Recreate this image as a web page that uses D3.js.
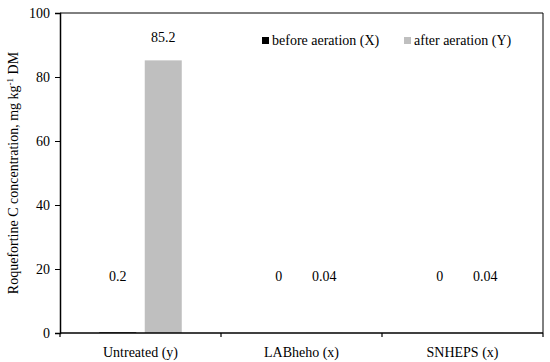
<!DOCTYPE html>
<html>
<head>
<meta charset="utf-8">
<script src="https://cdn.jsdelivr.net/npm/d3@7"></script>
<style>
  body { margin: 0; background: #fff; }
  text { font-family: "Liberation Serif", "DejaVu Serif", serif; fill: #000; }
</style>
</head>
<body>
<svg id="chart" width="550" height="362"></svg>
<script>
// values
var categories = ["Untreated (y)", "LABheho (x)", "SNHEPS (x)"];
var beforeVals = [0.2, 0, 0];
var afterVals = [85.2, 0.04, 0.04];
var seriesNames = ["before aeration (X)", "after aeration (Y)"];
var yTicks = [0, 20, 40, 60, 80, 100];

var colors = ["#000000", "#bfbfbf"];

var svg = d3.select("#chart");
var margin = {left: 60, right: 7, top: 13, bottom: 29};
var W = 550, H = 362;
var fs = "14px";

var x = d3.scaleBand()
  .domain(categories)
  .range([margin.left, W - margin.right]);

var y = d3.scaleLinear()
  .domain([0, 100])
  .range([H - margin.bottom, margin.top]);

var bw = 37, gap = 8.5;

// bars, one group per category
var rows = categories.map(function(c, i) {
  return {cat: c, vals: [beforeVals[i], afterVals[i]]};
});

var groups = svg.append("g").selectAll("g")
  .data(rows)
  .enter().append("g");

groups.each(function(D) {
  var cx = x(D.cat) + x.bandwidth() / 2;
  var g = d3.select(this);
  D.vals.forEach(function(v, s) {
    var bx = s == 0 ? cx - gap / 2 - bw : cx + gap / 2;
    g.append("rect")
      .attr("x", bx)
      .attr("width", bw)
      .attr("y", y(v))
      .attr("height", y(0) - y(v))
      .style("fill", colors[s]);
    // data labels: low ones sit at a fixed height, the tall one above its bar
    var ly = v > 30 ? y(v) - 18 : y(16.3);
    g.append("text")
      .attr("x", bx + bw / 2)
      .attr("y", ly)
      .attr("text-anchor", "middle")
      .style("font-size", fs)
      .text(String(v));
  });
});

// frame top and right
svg.append("line")
  .attr("x1", margin.left).attr("x2", W - margin.right)
  .attr("y1", y(100)).attr("y2", y(100))
  .style("stroke", "#000").style("stroke-width", 1);
svg.append("line")
  .attr("x1", W - margin.right).attr("x2", W - margin.right)
  .attr("y1", y(100)).attr("y2", y(0))
  .style("stroke", "#000").style("stroke-width", 1);

// y axis
var yAxis = svg.append("g")
  .attr("transform", "translate(" + margin.left + ",0)")
  .call(d3.axisLeft(y).tickValues(yTicks).tickSize(5).tickPadding(5));
yAxis.selectAll("text").style("font-size", fs).style("font-family", "Liberation Serif, serif").attr("fill", "#000");
yAxis.select(".domain").style("stroke-width", 1.5);

// x axis, ticks on band edges
var xAxis = svg.append("g")
  .attr("transform", "translate(0," + y(0) + ")");
xAxis.append("line")
  .attr("x1", margin.left).attr("x2", W - margin.right)
  .style("stroke", "#000").style("stroke-width", 1.5);
var edges = categories.map(function(c) { return x(c); }).concat([W - margin.right]);
xAxis.selectAll(".xt").data(edges).enter().append("line")
  .attr("x1", function(d) { return d; }).attr("x2", function(d) { return d; })
  .attr("y1", 0).attr("y2", 4)
  .style("stroke", "#000").style("stroke-width", 1.2);
xAxis.selectAll(".xl").data(categories).enter().append("text")
  .attr("x", function(d) { return x(d) + x.bandwidth() / 2; })
  .attr("y", 24)
  .attr("text-anchor", "middle")
  .style("font-size", fs)
  .text(function(d) { return d; });

// y title
var yt = svg.append("text")
  .attr("transform", "translate(18," + ((y(0) + y(100)) / 2) + ") rotate(-90)")
  .attr("text-anchor", "middle")
  .style("font-size", fs);
yt.append("tspan").text("Roquefortine C concentration, mg kg");
yt.append("tspan").attr("dy", -5).style("font-size", "9px").text("-1");
yt.append("tspan").attr("dy", 5).text(" DM");

// legend
var legX = [262, 404];
var leg = svg.append("g").selectAll("g")
  .data(seriesNames)
  .enter().append("g")
  .attr("transform", function(d, i) { return "translate(" + legX[i] + ",37)"; });
leg.append("rect")
  .attr("width", 7).attr("height", 7)
  .style("fill", function(d, i) { return colors[i]; });
leg.append("text")
  .attr("x", 10).attr("y", 7.5)
  .style("font-size", fs)
  .text(function(d) { return d; });
</script>
</body>
</html>
